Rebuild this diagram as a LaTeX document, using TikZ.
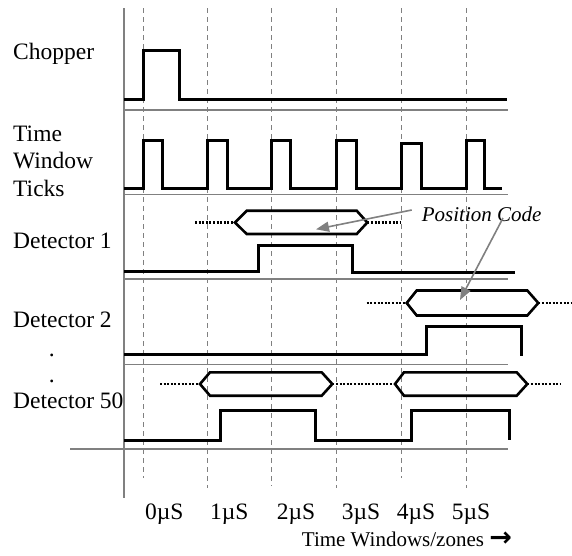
\documentclass[tikz,border=0pt]{standalone}
\usepackage{fontspec}
\setmainfont{Liberation Serif}
\newfontfamily\arrowfont{DejaVu Sans}
\usetikzlibrary{arrows.meta}
\begin{document}
\begin{tikzpicture}[x=1pt,y=-1pt,
  sig/.style={line width=3pt, line join=miter},
  sep/.style={draw=gray, line width=1.4pt},
  gridline/.style={draw=gray, line width=0.9pt, dash pattern=on 5pt off 4pt},
  dots/.style={line width=2.2pt, dash pattern=on 2pt off 1.6pt},
  bus/.style={line width=2.6pt, line join=miter},
  lbl/.style={font=\fontsize{23.5}{27.5}\selectfont, anchor=base west, inner sep=0pt},
  ptr/.style={draw=gray, line width=1.6pt, -{Triangle[length=13pt,width=10pt]}}
]
\useasboundingbox (0,0) rectangle (572,555);

% dashed time grid
\foreach \x/\b in {143/478,207/488,271/486,336/488,401/478,466/488}
  \draw[gridline] (\x,8) -- (\x,\b);

% axis and separators
\draw[sep] (124,8) -- (124,498);
\foreach \y in {110,194.5,279,364.5}
  \draw[sep] (124,\y) -- (507.5,\y);
\draw[sep] (70,449) -- (507.5,449);

% Chopper
\draw[sig] (124,99) -- (143,99) -- (143,50) -- (179,50) -- (179,99) -- (507,99);

% Time window ticks
\draw[sig] (124,188) -- (143,188) |- (162,140) |- (207,188) |- (227,140) |- (271,188)
  |- (290,140) |- (336,188) |- (356,140) |- (401,188) |- (421.5,143) |- (466,188)
  |- (484,140) |- (502,188);

% Detector 1
\draw[sig] (124,271) -- (258,271) -- (258,245) -- (352.7,245) -- (352.7,272.7) -- (515,272.7);
\draw[bus] (235,222.5) -- (246.7,210.7) -- (356.7,210.7) -- (367.3,222.5) -- (356.7,234) -- (246.7,234) -- cycle;
\draw[dots] (195,222.5) -- (235,222.5);
\draw[dots] (367.3,222.5) -- (400,222.5);

% Detector 2
\draw[bus] (406.7,303) -- (416.7,290.5) -- (527.3,290.5) -- (538.3,303) -- (527.3,315.5) -- (416.7,315.5) -- cycle;
\draw[dots] (366.7,303) -- (406.7,303);
\draw[dots] (538.3,303) -- (571,303);
\draw[sig] (124,354.5) -- (426,354.5) -- (426,326) -- (521.7,326) -- (521.7,356);

% Detector 50
\draw[bus] (200,384) -- (210,372.3) -- (321.7,372.3) -- (332.3,384) -- (321.7,395.7) -- (210,395.7) -- cycle;
\draw[dots] (160,384) -- (200,384);
\draw[dots] (332.3,384) -- (395,384);
\draw[bus] (395,384) -- (404,372.3) -- (516.7,372.3) -- (527.3,384) -- (516.7,395.7) -- (404,395.7) -- cycle;
\draw[dots] (527.3,384) -- (560,384);
\draw[sig] (124,440) -- (220,440) -- (220,410.7) -- (315,410.7) -- (315,440.7) -- (411.7,440.7)
  -- (411.7,410.7) -- (509.3,410.7) -- (509.3,440);

% labels
\node[lbl] (chop) at (13,59.5) {Chopper};
\node[lbl] (tw1) at (13,141) {Time};
\node[lbl] (tw2) at (13,168.5) {Window};
\node[lbl] (tw3) at (13,196) {Ticks};
\node[lbl] (d1) at (13,248.3) {Detector 1};
\node[lbl] (d2) at (13,327.7) {Detector 2};
\node[lbl, anchor=base] (dot1) at (51.7,356) {.};
\node[lbl, anchor=base] (dot2) at (51.7,382.7) {.};
\node[lbl] (d50) at (13,408.3) {Detector 50};

\node[lbl] (t0) at (145,519.3) {0µS};
\node[lbl] (t1) at (210,519.3) {1µS};
\node[lbl] (t2) at (276.7,519.3) {2µS};
\node[lbl] (t3) at (341.7,519.3) {3µS};
\node[lbl] (t4) at (396.7,519.3) {4µS};
\node[lbl] (t5) at (451.7,519.3) {5µS};
\node[anchor=base west, inner sep=0pt, font=\fontsize{21}{25}\selectfont] (tz) at (301.7,546)
  {Time Windows/zones {\arrowfont\bfseries\fontsize{27}{27}\selectfont →}};

% Position Code pointers
\node[anchor=base west, inner sep=0pt, font=\fontsize{21}{25}\selectfont\itshape] (pc) at (421.7,221) {Position Code};
\coordinate (p1s) at (411.7,210);
\coordinate (p1e) at (316,229.3);
\coordinate (p2s) at (503,218);
\coordinate (p2e) at (460,300);
\draw[ptr] (p1s) -- (p1e);
\draw[ptr] (p2s) -- (p2e);
\end{tikzpicture}
\end{document}
